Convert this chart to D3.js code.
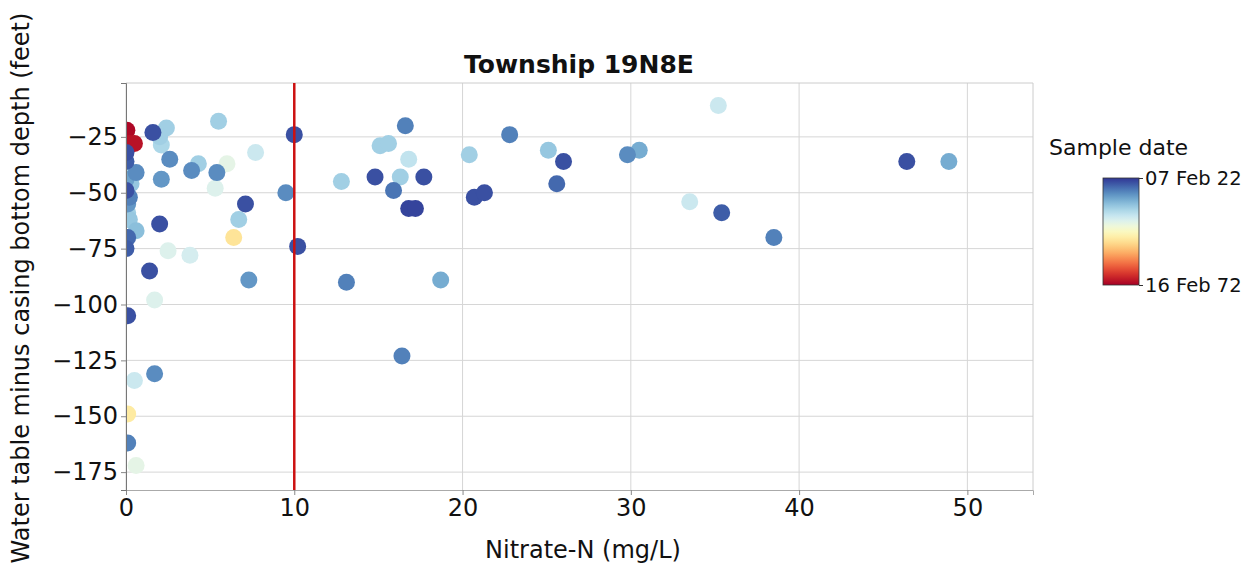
<!DOCTYPE html>
<html>
<head>
<meta charset="utf-8">
<script src="https://cdn.jsdelivr.net/npm/d3@7"></script>
<style>
  html, body { margin: 0; padding: 0; background: #fff; }
  svg { display: block; font-family: "DejaVu Sans", sans-serif; }
</style>
</head>
<body>
<svg id="chart" width="1255" height="569"></svg>
<script>
// ---- data ----
const nitrate = [0.05, 0.2, 0.5,
  0, 0, 0.1, 0.6, 0, 0.3, 0, 0.2, 0.1, 0.1, 0.2, 0.6, 0.1, 0,
  1.6, 2.4, 2.0, 2.1, 2.6, 4.3, 3.9, 5.4, 2.1, 5.5, 7.7, 10.0, 9.5, 7.1, 5.3, 6.0,
  2.0, 6.7, 6.4, 10.2, 1.4, 7.3, 3.8, 2.5, 1.7, 0.1, 1.7, 0.5, 0.1, 0.1, 0.6,
  16.6, 15.1, 15.6, 16.8, 12.8, 14.8, 16.3, 17.7, 15.9, 16.8, 17.2, 13.1, 18.7,
  20.4, 22.8, 20.7, 21.3, 25.1, 26.0, 25.6, 29.8, 30.5, 35.2, 33.5, 35.4, 38.5,
  46.4, 48.9, 16.4];
const depth = [-22, -28, -28,
  -32, -36, -40, -41, -44, -46, -49, -52, -55, -59, -62, -67, -70, -75,
  -23, -21, -25, -28.6, -35, -37, -40, -41, -44, -18, -32, -24, -50, -55, -48, -37,
  -64, -62, -70, -74, -85, -89, -78, -76, -98, -105, -131, -134, -149, -162, -172,
  -20, -29, -28, -35, -45, -43, -43, -43, -49, -57, -57, -90, -89,
  -33, -24, -52, -50, -31, -36, -46, -33, -31, -11, -54, -59, -70,
  -36, -36, -123];
const sampleYear = [1973, 1974, 1974,
  2020, 2019, 2008, 2015, 2013, 2009, 2020, 2016, 2014, 2008, 2009, 2010, 2018, 2019,
  2020, 2008, 2008, 2007, 2015, 2008, 2015, 2015, 2014, 2008, 2004, 2020, 2015, 2020, 2002, 2001,
  2020, 2008, 1993, 2020, 2020, 2014, 2003, 2002, 2002, 2020, 2015, 2004, 1994, 2016, 2001,
  2016, 2008, 2008, 2005, 2008, 2020, 2008, 2020, 2017, 2021, 2021, 2016, 2012,
  2008, 2016, 2020, 2020, 2009, 2020, 2018, 2015, 2012, 2004, 2004, 2019, 2016,
  2020, 2012, 2016];
const xTicks = [0, 10, 20, 30, 40, 50];
const yTicks = [-25, -50, -75, -100, -125, -150, -175];
const dateLabels = ["16 Feb 72", "07 Feb 22"];
const dateRange = [1972.12, 2022.1];
const guideline = 10;

// ---- layout ----
const svg = d3.select("#chart");
const m = { left: 126, right: 1033, top: 83, bottom: 490 };
const x = d3.scaleLinear().domain([0, 53.9]).range([m.left, m.right]);
const y = d3.scaleLinear().domain([-183, -0.9]).range([m.bottom, m.top]);
const color = d3.scaleSequential(d3.interpolateRdYlBu).domain(dateRange);

const defs = svg.append("defs");
defs.append("clipPath").attr("id", "plotclip").append("rect")
  .attr("x", m.left).attr("y", m.top).attr("width", m.right - m.left).attr("height", m.bottom - m.top);

// grid
svg.append("g").selectAll("line").data(xTicks).join("line")
  .attr("x1", d => x(d)).attr("x2", d => x(d))
  .attr("y1", m.top).attr("y2", m.bottom)
  .attr("stroke", "#d6d6d6").attr("stroke-width", 1);
svg.append("g").selectAll("line").data(yTicks).join("line")
  .attr("x1", m.left).attr("x2", m.right)
  .attr("y1", d => y(d)).attr("y2", d => y(d))
  .attr("stroke", "#d6d6d6").attr("stroke-width", 1);

// frame
svg.append("line").attr("x1", m.left).attr("x2", m.right).attr("y1", m.top).attr("y2", m.top).attr("stroke", "#cccccc");
svg.append("line").attr("x1", m.right).attr("x2", m.right).attr("y1", m.top).attr("y2", m.bottom).attr("stroke", "#cccccc");

// points
const pts = nitrate.map((n, i) => ({ n, d: depth[i], yr: sampleYear[i] }))
  .sort((a, b) => a.yr - b.yr);
svg.append("g").attr("clip-path", "url(#plotclip)")
  .selectAll("circle").data(pts).join("circle")
  .attr("cx", d => x(d.n)).attr("cy", d => y(d.d)).attr("r", 8.5)
  .attr("fill", d => color(d.yr));

// 10 mg/L line
svg.append("line").attr("x1", x(guideline)).attr("x2", x(guideline))
  .attr("y1", m.top).attr("y2", m.bottom)
  .attr("stroke", "#cc1111").attr("stroke-width", 2.5);

// axes
const xAxis = svg.append("g").attr("transform", `translate(0,${m.bottom})`)
  .call(d3.axisBottom(x).tickValues(xTicks).tickSize(5).tickPadding(4).tickFormat(d3.format("d")));
const yAxis = svg.append("g").attr("transform", `translate(${m.left},0)`)
  .call(d3.axisLeft(y).tickValues(yTicks).tickSize(5).tickPadding(3).tickFormat(d => "\u2212" + Math.abs(d)));
[xAxis, yAxis].forEach(a => {
  a.selectAll("text").attr("font-size", 24).attr("fill", "#111").attr("font-family", "DejaVu Sans");
  a.selectAll(".tick line").attr("stroke", "#888");
});
xAxis.select(".domain").attr("stroke", "#aaaaaa");
yAxis.select(".domain").attr("stroke", "#777777");

// title & labels
svg.append("text").attr("x", 579).attr("y", 73).attr("text-anchor", "middle")
  .attr("font-size", 25).attr("font-weight", "bold").attr("fill", "#111").text("Township 19N8E");
svg.append("text").attr("x", 583).attr("y", 558).attr("text-anchor", "middle")
  .attr("font-size", 24).attr("fill", "#111").text("Nitrate-N (mg/L)");
svg.append("text").attr("transform", "translate(29,288) rotate(-90)").attr("text-anchor", "middle")
  .attr("font-size", 24).attr("fill", "#111").text("Water table minus casing bottom depth (feet)");

// colorbar
const cb = { x: 1103, y: 178, w: 36, h: 107 };
const grad = defs.append("linearGradient").attr("id", "cbgrad")
  .attr("x1", 0).attr("y1", 1).attr("x2", 0).attr("y2", 0);
d3.range(0, 1.0001, 0.05).forEach(t => {
  grad.append("stop").attr("offset", t).attr("stop-color", d3.interpolateRdYlBu(t));
});
svg.append("rect").attr("x", cb.x).attr("y", cb.y).attr("width", cb.w).attr("height", cb.h)
  .attr("fill", "url(#cbgrad)").attr("stroke", "#333").attr("stroke-width", 0.8);
const cbScale = d3.scaleLinear().domain(dateRange).range([cb.y + cb.h, cb.y]);
const cbAxis = svg.append("g").attr("transform", `translate(${cb.x + cb.w},0)`)
  .call(d3.axisRight(cbScale).tickValues(dateRange).tickSize(4).tickPadding(2)
    .tickFormat((d, i) => dateLabels[i]));
cbAxis.select(".domain").remove();
cbAxis.selectAll("text").attr("font-size", 19.5).attr("fill", "#111").attr("font-family", "DejaVu Sans");
cbAxis.selectAll(".tick line").attr("stroke", "#333");
svg.append("text").attr("x", 1049).attr("y", 155).attr("font-size", 22).attr("fill", "#111").text("Sample date");
</script>
</body>
</html>
